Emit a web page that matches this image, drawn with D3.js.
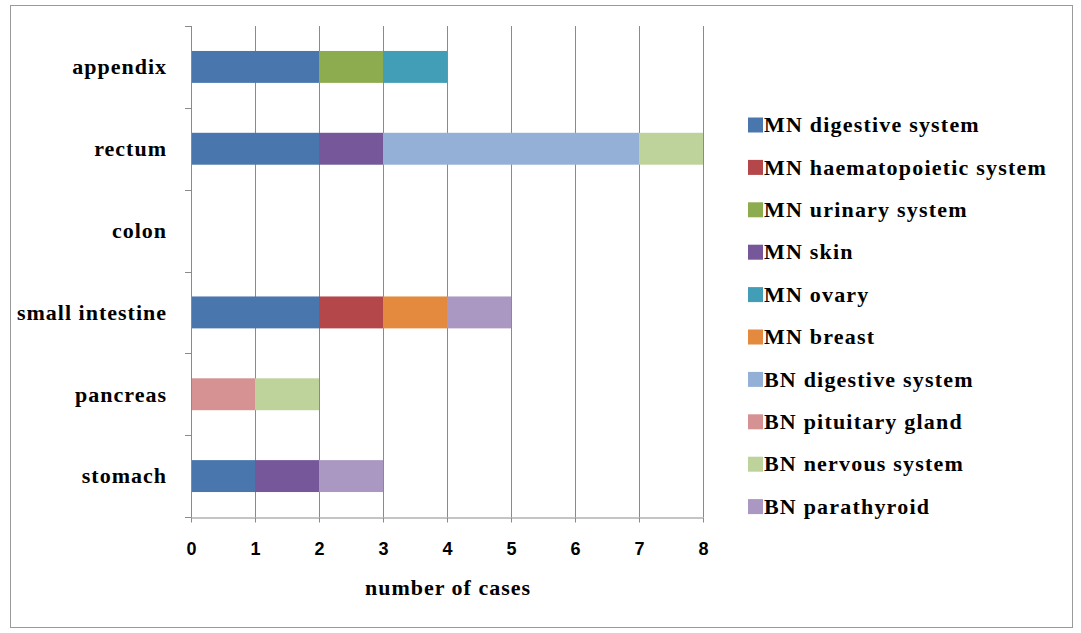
<!DOCTYPE html>
<html>
<head>
<meta charset="utf-8">
<script src="https://cdn.jsdelivr.net/npm/d3@7"></script>
<style>
  html, body { margin: 0; padding: 0; background: #fff; }
  svg text { font-family: "Liberation Serif", "DejaVu Serif", serif; font-weight: bold; fill: #000; }
</style>
</head>
<body>
<svg id="chart" width="1081" height="633"></svg>
<script>
// Organs, listed top to bottom
const organs = ["appendix", "rectum", "colon", "small intestine", "pancreas", "stomach"];

// Tumour groups, in stacking / legend order
const groups = [
  "MN digestive system", "MN haematopoietic system", "MN urinary system", "MN skin",
  "MN ovary", "MN breast", "BN digestive system", "BN pituitary gland",
  "BN nervous system", "BN parathyroid"
];

const groupColors = [
  "#4A76AE", "#B3474A", "#8DAC4F", "#75579A", "#429EB6",
  "#E48A3E", "#94B0D6", "#D69292", "#BDD39B", "#AA98C3"
];

// Cases per organ, one array per tumour group (organ order as above)
const mnDigestive    = [2, 2, 0, 2, 0, 1];
const mnHaemato      = [0, 0, 0, 1, 0, 0];
const mnUrinary      = [1, 0, 0, 0, 0, 0];
const mnSkin         = [0, 1, 0, 0, 0, 1];
const mnOvary        = [1, 0, 0, 0, 0, 0];
const mnBreast       = [0, 0, 0, 1, 0, 0];
const bnDigestive    = [0, 4, 0, 0, 0, 0];
const bnPituitary    = [0, 0, 0, 0, 1, 0];
const bnNervous      = [0, 1, 0, 0, 1, 0];
const bnParathyroid  = [0, 0, 0, 1, 0, 1];

const xTicks = [0, 1, 2, 3, 4, 5, 6, 7, 8];
const xTitle = "number of cases";

const seriesValues = [mnDigestive, mnHaemato, mnUrinary, mnSkin, mnOvary,
                      mnBreast, bnDigestive, bnPituitary, bnNervous, bnParathyroid];

const rows = organs.map((o, i) => {
  const r = { organ: o };
  groups.forEach((g, k) => { r[g] = seriesValues[k][i]; });
  return r;
});

const svg = d3.select("#chart");

// outer frame
svg.append("rect")
  .attr("x", 10.5).attr("y", 5.5).attr("width", 1062).attr("height", 622)
  .attr("fill", "#fff").attr("stroke", "#9a9a9a").attr("stroke-width", 1);

const plot = { left: 191, right: 703, top: 26, bottom: 517 };

const x = d3.scaleLinear().domain([0, 8]).range([plot.left, plot.right]);
const y = d3.scaleBand().domain(organs).range([plot.top, plot.bottom]).paddingInner(0.61).paddingOuter(0.305);

const g = svg.append("g");

// vertical gridlines
g.append("g").selectAll("line").data(xTicks.slice(1)).join("line")
  .attr("x1", d => Math.round(x(d)) + 0.5).attr("x2", d => Math.round(x(d)) + 0.5)
  .attr("y1", plot.top).attr("y2", plot.bottom)
  .attr("stroke", "#8a8a8a").attr("stroke-width", 1);

// stacked bars
const stack = d3.stack().keys(groups)(rows);
g.append("g").selectAll("g").data(stack).join("g")
  .attr("fill", (d, i) => groupColors[i])
  .selectAll("rect").data(d => d.filter(s => s[1] - s[0] > 0)).join("rect")
  .attr("x", d => x(d[0]))
  .attr("width", d => x(d[1]) - x(d[0]))
  .attr("y", d => y(d.data.organ))
  .attr("height", y.bandwidth());

// x axis
const xAxis = g.append("g")
  .attr("transform", `translate(0,${plot.bottom + 0.5})`)
  .call(d3.axisBottom(x).tickValues(xTicks).tickSize(5).tickPadding(20).tickSizeOuter(0));
xAxis.select(".domain").attr("stroke", "#8a8a8a");
xAxis.selectAll(".tick line").attr("stroke", "#8a8a8a");
xAxis.selectAll(".tick text")
  .style("font-family", "'Liberation Sans', Arial, sans-serif")
  .style("font-weight", "bold")
  .attr("fill", "#222")
  .attr("font-size", 18);

// y axis with ticks at category boundaries
const boundaries = d3.range(organs.length + 1).map(i => plot.top + i * (plot.bottom - plot.top) / organs.length);
g.append("line")
  .attr("x1", plot.left + 0.5).attr("x2", plot.left + 0.5)
  .attr("y1", plot.top).attr("y2", plot.bottom)
  .attr("stroke", "#8a8a8a");
g.append("g").selectAll("line").data(boundaries).join("line")
  .attr("x1", plot.left - 6).attr("x2", plot.left + 0.5)
  .attr("y1", d => Math.round(d) + 0.5).attr("y2", d => Math.round(d) + 0.5)
  .attr("stroke", "#8a8a8a");

// category labels
g.append("g").selectAll("text").data(organs).join("text")
  .attr("x", 167)
  .attr("y", d => y(d) + y.bandwidth() / 2)
  .attr("dy", "0.33em")
  .attr("text-anchor", "end")
  .attr("font-size", 22)
  .attr("letter-spacing", 1)
  .text(d => d);

// x axis title
svg.append("text")
  .attr("x", 448).attr("y", 595)
  .attr("text-anchor", "middle")
  .attr("font-size", 22)
  .attr("letter-spacing", 1)
  .text(xTitle);

// legend
const legend = svg.append("g").attr("transform", "translate(748,125)");
const item = legend.selectAll("g").data(groups).join("g")
  .attr("transform", (d, i) => `translate(0,${i * 42.4})`);
item.append("rect")
  .attr("x", 0).attr("y", -7.5).attr("width", 15).attr("height", 15)
  .attr("fill", (d, i) => groupColors[i]);
item.append("text")
  .attr("x", 16).attr("y", 0).attr("dy", "0.33em")
  .attr("font-size", 22)
  .attr("letter-spacing", 1.2)
  .text(d => d);
</script>
</body>
</html>
